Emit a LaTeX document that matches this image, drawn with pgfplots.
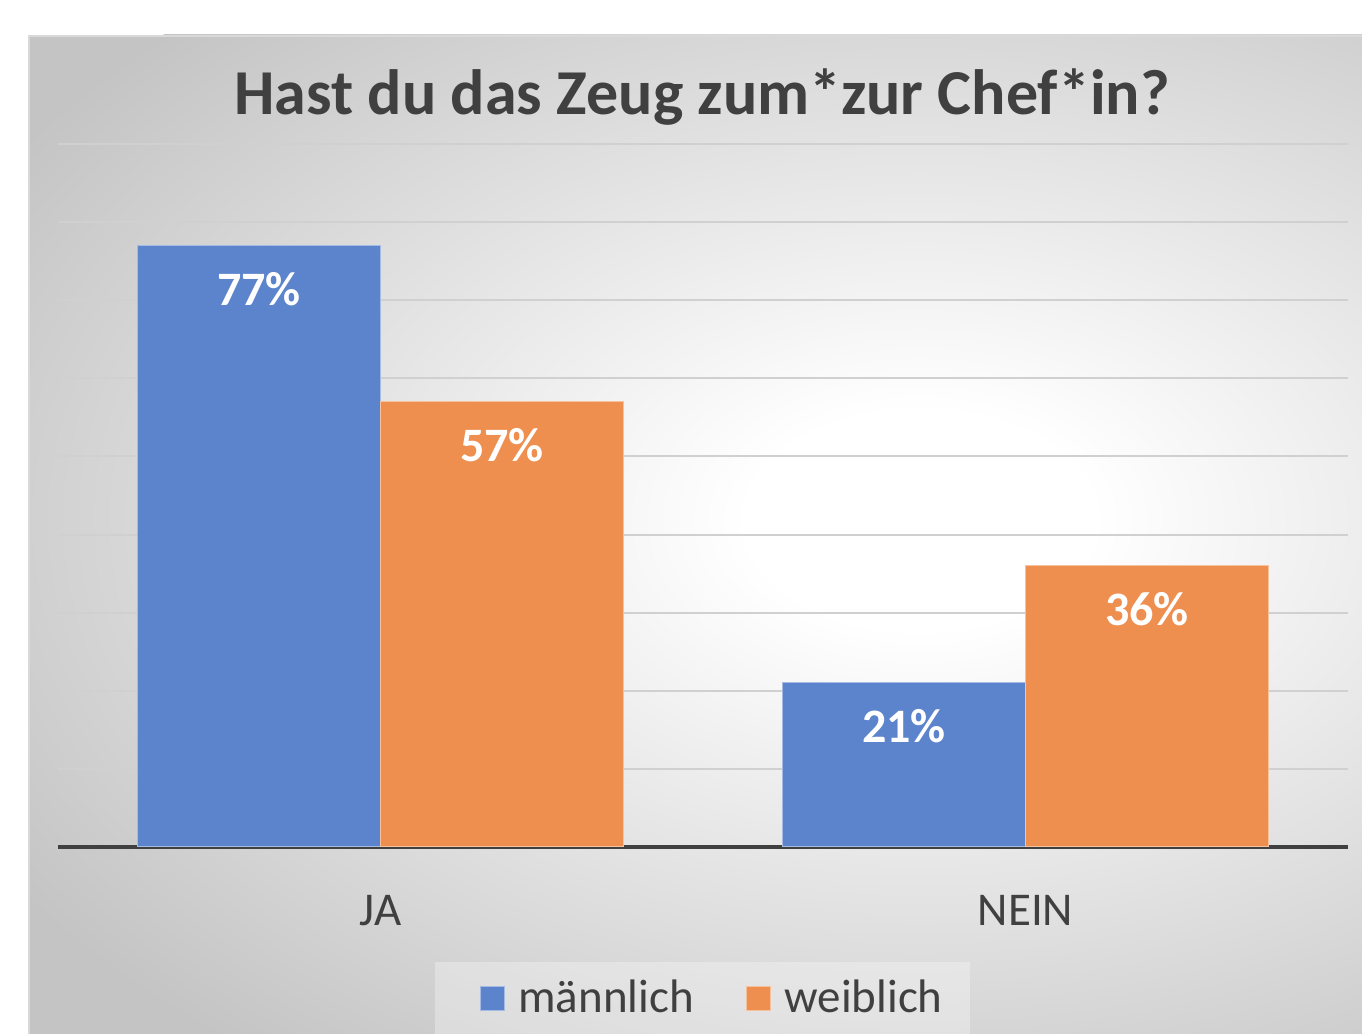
\documentclass[border=0pt]{standalone}
\usepackage{fontspec}
\setmainfont{Carlito}
\usepackage{pgfplots}
\pgfplotsset{compat=1.18}
\definecolor{txt}{HTML}{404040}
\definecolor{mblue}{HTML}{5B84CC}
\definecolor{morange}{HTML}{EE8F50}
\definecolor{gridc}{HTML}{D0D0D0}
\definecolor{bgout}{HTML}{C4C4C4}
\pgfdeclareradialshading{bgshade}{\pgfpoint{0bp}{0bp}}{color(0bp)=(white); color(4bp)=(white); color(25bp)=(bgout); color(50bp)=(bgout)}
\begin{document}
\begin{tikzpicture}
\useasboundingbox (0pt,0pt) rectangle (681pt,517pt);
\fill[white] (0pt,0pt) rectangle (681pt,517pt);
\begin{scope}
\clip (14pt,0pt) rectangle (681pt,499.5pt);
\fill[bgout] (14pt,0pt) rectangle (681pt,499.5pt);
\shade[shading=bgshade] (460pt,257pt) ellipse (540pt and 340pt);
\end{scope}
\draw[black!15, line width=1pt] (14.5pt,-2pt) rectangle (683pt,499pt);
\fill[white, opacity=0.3] (217.5pt,0pt) rectangle (485pt,36pt);
\node[font=\fontsize{32}{36}\selectfont\bfseries, text=txt] at (351pt,468.5pt) {Hast du das Zeug zum*zur Chef*in?};
\begin{axis}[
  at={(29pt,93.5pt)}, anchor=south west, scale only axis, width=645pt, height=351.5pt,
  xmin=-0.5, xmax=1.5, ymin=0, ymax=90,
  ybar=0pt, bar width=0.377,
  /pgf/number format/assume math mode=true,
  xtick={0,1}, xticklabels={JA,NEIN},
  ytick={10,20,...,90}, yticklabels={},
  ymajorgrids, grid style={gridc, line width=1pt},
  extra y ticks={0}, extra y tick labels={}, extra y tick style={grid style={txt, line width=1.6pt}},
  major tick length=0pt,
  axis line style={draw=none},
  xticklabel style={font=\fontsize{23.5}{28}\selectfont, text=txt, inner sep=0pt, yshift=-24pt},
  nodes near coords={\pgfmathprintnumber{\pgfplotspointmeta}\%},
  every node near coord/.append style={font=\fontsize{24}{28}\selectfont\bfseries, text=white, anchor=north, yshift=-13pt, inner sep=0pt},
  legend style={at={(0.508,-0.215)}, anchor=center, draw=none, fill=none, legend columns=2, font=\fontsize{23.5}{28}\selectfont, text=txt, /tikz/every even column/.append style={column sep=24pt}},
  legend image code/.code={\fill[#1] (0pt,-6pt) rectangle (12pt,6pt); \path[draw=none,fill=none] (0pt,0pt) -- (17pt,0pt);},
]
\addplot[fill=mblue, draw=mblue!55!white, line width=0.5pt] coordinates {(0,77) (1,21)};
\addplot[fill=morange, draw=morange!55!white, line width=0.5pt] coordinates {(0,57) (1,36)};
\legend{männlich, weiblich}
\end{axis}
\end{tikzpicture}
\end{document}
